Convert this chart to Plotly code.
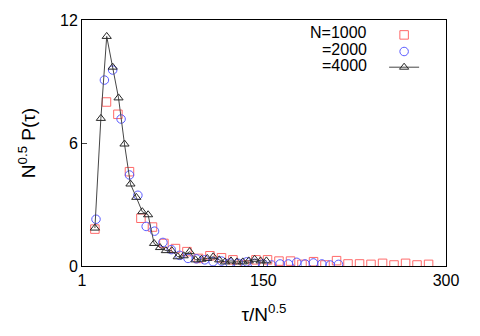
import plotly.graph_objects as go

# N=1000 (squares)
x_1000 = [11.6, 21.1, 30.5, 40.0, 49.4, 58.9, 68.3, 77.8, 87.2, 96.7,
          106.1, 115.6, 125.0, 134.5, 143.9, 153.4, 162.8, 172.3, 181.7, 191.2,
          200.6, 210.1, 219.5, 229.0, 238.4, 247.9, 257.3, 266.8, 276.2, 285.7]
y_1000 = [1.8, 8.0, 7.4, 4.6, 2.33, 1.9, 1.1, 0.85, 0.7, 0.37,
          0.5, 0.4, 0.3, 0.05, 0.3, 0.3, 0.24, 0.24, 0.08, 0.21,
          0.05, 0.26, 0.1, 0.1, 0.08, 0.13, 0.05, 0.13, 0.05, 0.08]

# N=2000 (circles)
x_2000 = [12.5, 19.4, 26.2, 33.1, 40.0, 46.9, 53.7, 60.6, 67.5, 74.3,
          81.2, 88.1, 95.0, 101.8, 108.7, 115.6, 122.4, 129.3, 136.2, 143.0,
          149.9, 156.8, 163.7, 170.5, 177.4, 184.3, 191.1, 198.0, 204.9, 211.7]
y_2000 = [2.28, 9.07, 9.56, 7.17, 4.44, 3.45, 1.93, 1.7, 1.15, 0.8,
          0.52, 0.37, 0.35, 0.3, 0.21, 0.24, 0.15, 0.13, 0.2, 0.13,
          0.1, 0.05, 0.1, 0.1, 0.18, 0.1, 0.15, 0.1, 0.05, 0.08]

# N=4000 (triangles + line)
x_4000 = [11.6, 16.5, 21.3, 26.2, 31.0, 35.9, 40.8, 45.6, 50.5, 55.3,
          60.2, 65.1, 69.9, 74.8, 79.6, 84.5, 89.4, 94.2, 99.1, 103.9,
          108.8, 113.7, 118.5, 123.4, 128.2, 133.1, 138.0, 142.8, 147.7, 152.5]
y_4000 = [1.85, 7.2, 11.2, 9.7, 8.2, 5.95, 4.0, 3.35, 2.65, 2.5,
          1.1, 0.9, 0.75, 0.75, 0.45, 0.5, 0.7, 0.3, 0.33, 0.37,
          0.45, 0.3, 0.2, 0.25, 0.2, 0.2, 0.25, 0.33, 0.25, 0.25]

x_ticks = [1, 150, 300]
y_ticks = [0, 6, 12]
etiquetas = ["N=1000", "=2000", "=4000"]

FUENTE = "Liberation Sans, Arial, sans-serif"

# area de trazado en pixeles
L, R, T, B = 82, 446, 20, 266


def px_x(p):
    return (p - L) / (R - L)


def px_y(p):
    return (B - p) / (B - T)


fig = go.Figure()
fig.add_trace(go.Scatter(
    x=x_1000, y=y_1000, mode='markers', name='', legend='legend',
    marker=dict(symbol='square-open', size=8.5, color='rgb(255,105,105)', line=dict(width=1))
))
fig.add_trace(go.Scatter(
    x=x_2000, y=y_2000, mode='markers', name='', legend='legend2',
    marker=dict(symbol='circle-open', size=8.5, color='rgb(90,90,255)', line=dict(width=1))
))
fig.add_trace(go.Scatter(
    x=x_4000, y=y_4000, mode='lines+markers', name='', legend='legend3',
    line=dict(color='rgb(70,70,70)', width=1),
    marker=dict(symbol='triangle-up-open', size=8, color='rgb(40,40,40)', line=dict(width=1))
))

filas = [32.7, 49.3, 65.0]

# textos de la leyenda, alineados a la derecha como en el original
for i, t in enumerate(etiquetas):
    fig.add_annotation(
        x=px_x(369), y=px_y(filas[i]), xref='paper', yref='paper', text=t,
        showarrow=False, xanchor='right', yanchor='middle',
        font=dict(size=16, color='black', family=FUENTE)
    )


def leyenda(fila):
    return dict(x=0.83, y=px_y(fila - 12.3), xanchor='left', yanchor='top',
                bgcolor='rgba(0,0,0,0)', font=dict(size=10), itemwidth=30)


fig.update_layout(
    width=480, height=336,
    margin=dict(l=L, r=480 - R, t=T, b=336 - B),
    paper_bgcolor='white', plot_bgcolor='white',
    font=dict(family=FUENTE, size=16, color='black'),
    showlegend=True,
    legend=leyenda(filas[0]),
    legend2=leyenda(filas[1]),
    legend3=leyenda(filas[2]),
    xaxis=dict(range=[1, 300], tickvals=x_ticks, ticktext=[str(v) for v in x_ticks],
               showgrid=False, zeroline=False, showline=True, mirror=True,
               linecolor='black', linewidth=1, ticks='inside', ticklen=5,
               title=dict(text='τ/N<sup>0.5</sup>', standoff=19)),
    yaxis=dict(range=[0, 12], tickvals=y_ticks, ticktext=[str(v) for v in y_ticks],
               showgrid=False, zeroline=False, showline=True, mirror=True,
               linecolor='black', linewidth=1, ticks='inside', ticklen=5,
               title=dict(text='N<sup>0.5</sup> P(τ)', standoff=19)),
)

fig.write_html("out.html", config={'displayModeBar': False},
               post_script="document.body.style.margin='0';")
